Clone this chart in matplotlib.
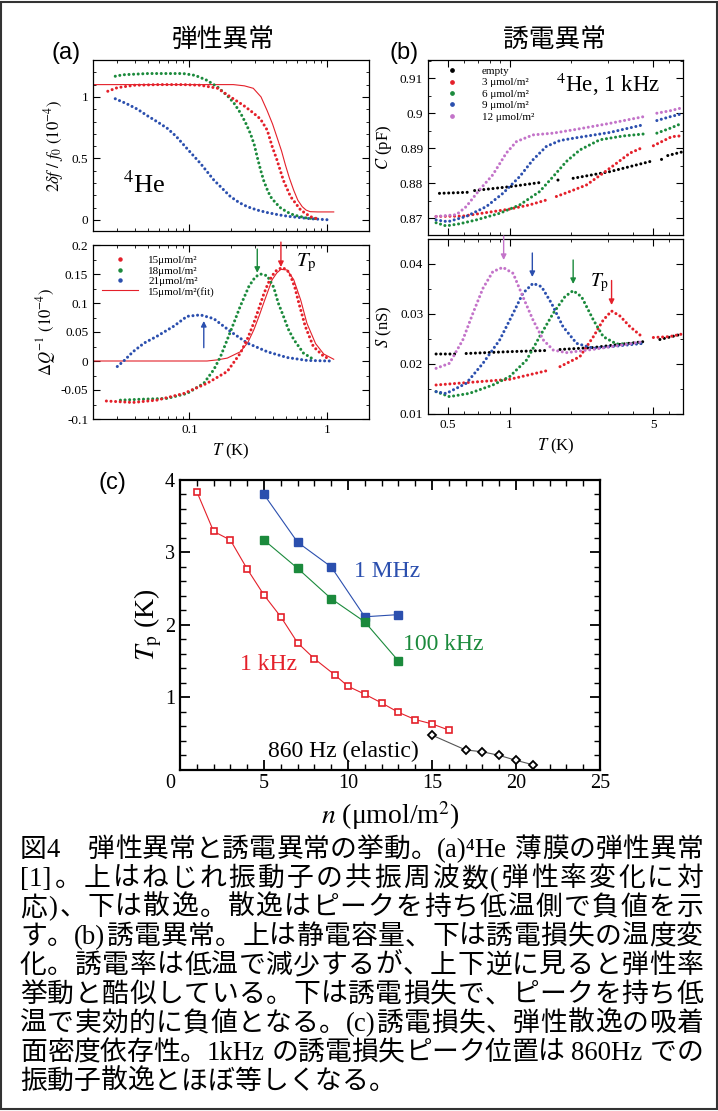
import re
import numpy as np
import matplotlib
matplotlib.use("Agg")
import matplotlib.pyplot as plt
from matplotlib.lines import Line2D
from matplotlib.patches import Rectangle
from matplotlib.ticker import AutoMinorLocator, NullFormatter, FuncFormatter

plt.rcParams['font.family'] = ['Liberation Serif', 'Noto Sans CJK JP', 'DejaVu Sans']
plt.rcParams['mathtext.fontset'] = 'stix'

nan = np.nan

# ---------------- (a) elastic anomaly, top: 2 df/f0 ----------------
a_T15 = [0.0256, 0.03, 0.04, 0.06, 0.09, 0.12, 0.16, 0.198, 0.247, 0.29, 0.327, 0.366, 0.398,
         0.43, 0.48, 0.54, 0.64, 0.75, 0.84]
a_df15 = [1.046, 1.075, 1.095, 1.10, 1.10, 1.095, 1.07, 1.0, 0.93, 0.87, 0.82, 0.73, 0.595,
          0.49, 0.32, 0.19, 0.08, 0.027, 0.01]
a_Tfit = [0.02, 0.208, 0.25, 0.29, 0.33, 0.365, 0.40, 0.43, 0.465, 0.496, 0.53, 0.57, 0.61,
          0.656, 0.70, 0.75, 0.85, 1.11]
a_dffit = [1.10, 1.10, 1.09, 1.07, 1.0, 0.89, 0.78, 0.675, 0.56, 0.446, 0.34, 0.24, 0.16,
           0.108, 0.08, 0.067, 0.065, 0.065]
a_T18 = [0.029, 0.033, 0.05, 0.07, 0.09, 0.11, 0.134, 0.16, 0.188, 0.21, 0.234, 0.255, 0.277,
         0.295, 0.31, 0.327, 0.345, 0.365, 0.386, 0.42, 0.46, 0.52, 0.57, 0.71, 0.84]
a_df18 = [1.168, 1.18, 1.19, 1.19, 1.19, 1.175, 1.135, 1.08, 1.01, 0.95, 0.87, 0.79, 0.70,
          0.61, 0.51, 0.41, 0.32, 0.25, 0.19, 0.14, 0.095, 0.06, 0.04, 0.015, 0.01]
a_T21 = [0.029, 0.035, 0.042, 0.049, 0.058, 0.069, 0.08, 0.096, 0.12, 0.15, 0.175, 0.198,
         0.23, 0.262, 0.31, 0.366, 0.45, 0.54, 0.75, 1.05]
a_df21 = [0.985, 0.945, 0.90, 0.85, 0.80, 0.745, 0.68, 0.58, 0.46, 0.325, 0.25, 0.19,
          0.14, 0.108, 0.08, 0.06, 0.04, 0.027, 0.01, 0.0]

# ---------------- (a) bottom: dissipation dQ^-1 ----------------
q_T15 = [0.025, 0.039, 0.058, 0.091, 0.134, 0.188, 0.234, 0.265, 0.293, 0.32, 0.345, 0.37,
         0.397, 0.43, 0.47, 0.51, 0.54, 0.58, 0.62, 0.69, 0.79, 0.94, 1.05]
q_15 = [-0.069, -0.0715, -0.0675, -0.056, -0.0385, -0.018, 0.0136, 0.04, 0.066, 0.092, 0.115,
        0.133, 0.147, 0.157, 0.161, 0.157, 0.147, 0.127, 0.10, 0.06, 0.025, 0.008, 0.003]
q_Tfit = [0.02, 0.134, 0.16, 0.188, 0.234, 0.265, 0.293, 0.32, 0.345, 0.37, 0.397, 0.43, 0.46,
          0.51, 0.57, 0.64, 0.71, 0.82, 0.94, 1.11]
q_fit = [0, 0, 0.002, 0.005, 0.016, 0.032, 0.054, 0.078, 0.10, 0.12, 0.14, 0.152, 0.158,
         0.157, 0.14, 0.105, 0.065, 0.03, 0.012, 0.003]
q_T18 = [0.0316, 0.044, 0.069, 0.096, 0.127, 0.15, 0.168, 0.188, 0.21, 0.234, 0.27, 0.30,
         0.327, 0.366, 0.408, 0.44, 0.48, 0.52, 0.57, 0.67, 0.79]
q_18 = [-0.0675, -0.066, -0.0645, -0.056, -0.0385, -0.015, 0.0077, 0.037, 0.066, 0.095, 0.129,
        0.145, 0.15, 0.147, 0.127, 0.10, 0.077, 0.055, 0.037, 0.0136, 0.003]
q_T21 = [0.03, 0.0335, 0.039, 0.047, 0.058, 0.077, 0.096, 0.12, 0.15, 0.198, 0.262, 0.366,
         0.51, 0.71, 1.05]
q_21 = [-0.0095, 0.0003, 0.016, 0.031, 0.0425, 0.06, 0.077, 0.0795, 0.073, 0.051, 0.031,
        0.016, 0.006, 0.001, 0.0]
q_peak_T = [0.46, 0.31, 0.127]   # arrows (15, 18, 21)

# ---------------- (b) dielectric anomaly, top: C ----------------
c_T0 = [0.455, 0.625, nan, 0.675, 1.0, 1.41, nan, 1.72, 1.80, nan, 2.04, 3.08, 4.84, nan,
        5.5, 5.6, nan, 5.9, 7.0]
c_0 = [0.8771, 0.8774, nan, 0.8779, 0.879, 0.8802, nan, 0.8809, 0.8811, nan, 0.8814, 0.8833,
       0.8862, nan, 0.8868, 0.8870, nan, 0.8879, 0.889]
c_T3 = [0.438, 0.591, 0.769, 1.0, 1.25, 1.51, nan, 1.69, 1.96, 2.37, 2.86, 3.32, 3.86, 4.49,
        nan, 5.02, 6.17, 6.78]
c_3 = [0.8705, 0.8706, 0.8716, 0.8726, 0.8738, 0.8752, nan, 0.8762, 0.8776, 0.8795, 0.8829,
       0.8857, 0.8886, 0.8903, nan, 0.8907, 0.8933, 0.8935]
c_T6 = [0.438, 0.49, 0.57, 0.687, 0.894, 1.12, 1.40, 1.63, 1.89, 2.20, 2.75, 3.58, 4.57, nan,
        5.22, 6.06, 6.78]
c_6 = [0.8687, 0.8678, 0.8684, 0.8695, 0.8714, 0.8738, 0.8776, 0.8819, 0.8862, 0.8895, 0.8924,
       0.8935, 0.8941, nan, 0.8943, 0.8957, 0.8969]
c_T9 = [0.438, 0.50, 0.614, 0.769, 0.927, 1.12, 1.30, 1.51, 1.76, 2.12, 3.08, 4.49, nan,
        5.22, 6.06, 6.78]
c_9 = [0.8695, 0.869, 0.8705, 0.8733, 0.8771, 0.8819, 0.8867, 0.8905, 0.8922, 0.893, 0.8945,
       0.8967, nan, 0.8979, 0.899, 0.8997]
c_T12 = [0.438, 0.55, 0.614, 0.713, 0.828, 0.963, 1.08, 1.30, 1.63, 2.12, 3.08, 4.49, nan,
         5.22, 6.06, 6.78]
c_12 = [0.8705, 0.871, 0.8733, 0.8781, 0.8824, 0.8886, 0.8919, 0.8938, 0.8943, 0.8954, 0.8971,
        0.899, nan, 0.900, 0.9007, 0.9014]

# ---------------- (b) bottom: dielectric loss S ----------------
s_T0 = [0.438, 0.549, nan, 0.614, 1.0, 1.51, nan, 1.76, 2.56, 4.49, nan, 5.40, 6.94]
s_0 = [0.022, 0.022, nan, 0.0221, 0.02247, 0.0227, nan, 0.0229, 0.0233, 0.02447, nan, 0.0249, 0.026]
s_T3 = [0.438, 0.614, 1.0, 1.57, nan, 1.76, 2.20, 2.56, 2.86, 3.14, 3.45, 3.86, 4.32, 4.49, nan,
        5.02, 6.0, 6.94]
s_3 = [0.0158, 0.01627, 0.01693, 0.0188, nan, 0.01947, 0.02147, 0.02547, 0.0288, 0.0306, 0.0296,
       0.02747, 0.0258, 0.0256, nan, 0.0253, 0.02547, 0.026]
s_T6 = [0.438, 0.509, 0.637, 0.828, 1.0, 1.21, 1.40, 1.63, 1.86, 2.04, 2.24, 2.56, 2.86, 3.32, 4.49]
s_6 = [0.01447, 0.01347, 0.01413, 0.0158, 0.01747, 0.0208, 0.02547, 0.03013, 0.03347, 0.03467,
       0.03347, 0.0288, 0.02547, 0.024, 0.02413]
s_T9 = [0.438, 0.49, 0.614, 0.741, 0.894, 1.04, 1.16, 1.30, 1.43, 1.60, 1.82, 2.12, 2.56, 4.49]
s_9 = [0.01447, 0.0141, 0.01613, 0.02013, 0.0248, 0.03013, 0.03413, 0.03613, 0.03547, 0.03213,
       0.02747, 0.02413, 0.02313, 0.02413]
s_T12 = [0.438, 0.509, 0.591, 0.662, 0.741, 0.828, 0.927, 1.04, 1.16, 1.30, 1.46, 1.63, 1.89,
         2.56, 4.49]
s_12 = [0.01913, 0.02013, 0.0248, 0.03013, 0.03513, 0.03847, 0.03933, 0.03813, 0.03347, 0.0288,
        0.0248, 0.0228, 0.02227, 0.02293, 0.02447]
s_peak_T = [0.935, 1.29, 2.04, 3.14]   # arrows (12, 9, 6, 3)

# ---------------- (c) peak temperature vs coverage ----------------
n_1k = [1, 2, 3, 4, 5, 6, 7, 8, 9.2, 10, 11, 12, 13, 14, 15, 16]
tp_1k = [3.84, 3.29, 3.17, 2.77, 2.41, 2.11, 1.75, 1.53, 1.31, 1.15, 1.04, 0.92, 0.79, 0.69,
         0.63, 0.545]
n_1M = [5, 7, 9, 11, 13]
tp_1M = [3.80, 3.14, 2.80, 2.11, 2.14]
n_100k = [5, 7, 9, 11, 13]
tp_100k = [3.17, 2.78, 2.36, 2.04, 1.50]
n_860 = [15, 17, 18, 19, 20, 21]
tp_860 = [0.475, 0.27, 0.245, 0.195, 0.127, 0.066]

caption = [
    "図4　弾性異常と誘電異常の挙動。(a)⁴He 薄膜の弾性異常",
    "[1]。上はねじれ振動子の共振周波数(弾性率変化に対",
    "応)、下は散逸。散逸はピークを持ち低温側で負値を示",
    "す。(b)誘電異常。上は静電容量、下は誘電損失の温度変",
    "化。誘電率は低温で減少するが、上下逆に見ると弾性率",
    "挙動と酷似している。下は誘電損失で、ピークを持ち低",
    "温で実効的に負値となる。(c)誘電損失、弾性散逸の吸着",
    "面密度依存性。1kHz の誘電損失ピーク位置は 860Hz での",
    "振動子散逸とほぼ等しくなる。",
]

RED = '#e4202a'
GREEN = '#1b8a3c'
BLUE = '#2b4fae'
MAG = '#c373c9'
W, H = 718, 1111

fig = plt.figure(figsize=(W / 100, H / 100), dpi=100)


def box(x0, y0, x1, y1):
    return [x0 / W, 1 - y1 / H, (x1 - x0) / W, (y1 - y0) / H]


def ftext(x, y, s, **kw):
    return fig.text(x / W, 1 - y / H, s, **kw)


def style(ax, fs=9.5):
    ax.tick_params(which='both', direction='in', top=True, right=True, labelsize=fs)
    ax.tick_params(which='major', length=5, width=0.8)
    ax.tick_params(which='minor', length=2.5, width=0.6)
    for s in ax.spines.values():
        s.set_linewidth(0.9)


dots = dict(ls=(0, (0.01, 1.5)), lw=2.2, dash_capstyle='round')

ax_a1 = fig.add_axes(box(93, 60, 369, 231))
ax_a2 = fig.add_axes(box(93, 245, 369, 419))
ax_b1 = fig.add_axes(box(428, 60, 683, 235))
ax_b2 = fig.add_axes(box(428, 239, 683, 414))
ax_c = fig.add_axes(box(180, 480, 600, 769.5))

# (a) top
ax_a1.plot(a_Tfit, a_dffit, color=RED, lw=0.8)
ax_a1.plot(a_T21, a_df21, color=BLUE, **dots)
ax_a1.plot(a_T18, a_df18, color=GREEN, **dots)
ax_a1.plot(a_T15, a_df15, color=RED, **dots)
ax_a1.set_ylim(-0.09, 1.3)
ax_a1.set_yticks([0, 0.5, 1])
ax_a1.yaxis.set_minor_locator(AutoMinorLocator(5))
ax_a1.set_ylabel(r"$2\delta f\ /\ f_0\ \mathrm{(10^{-4})}$", fontsize=12, labelpad=4)
ax_a1.text(0.108, 0.225, r"$^{4}$He", transform=ax_a1.transAxes, fontsize=19)

# (a) bottom
ax_a2.plot(q_Tfit, q_fit, color=RED, lw=0.8)
ax_a2.plot(q_T21, q_21, color=BLUE, **dots)
ax_a2.plot(q_T18, q_18, color=GREEN, **dots)
ax_a2.plot(q_T15, q_15, color=RED, **dots)
ax_a2.set_ylim(-0.1, 0.2)
ax_a2.set_yticks([-0.1, -0.05, 0, 0.05, 0.1, 0.15, 0.2])
ax_a2.yaxis.set_minor_locator(AutoMinorLocator(2))
ax_a2.set_ylabel(r"$\mathit{\Delta Q}^{\mathrm{-1}}\ \mathrm{(10^{-4})}$", fontsize=12, labelpad=2)
ax_a2.set_xlabel(r"$T$ (K)", fontsize=12, labelpad=4)
for T, c, y0, y1 in zip(q_peak_T, [RED, GREEN, BLUE], [0.205, 0.193, 0.023], [0.162, 0.152, 0.069]):
    ax_a2.annotate('', xy=(T, y1), xytext=(T, y0), annotation_clip=False,
                   arrowprops=dict(arrowstyle='-|>', color=c, lw=1.0, mutation_scale=8,
                                   shrinkA=0, shrinkB=0))
ax_a2.text(0.735, 0.88, r"$T_{\mathrm{p}}$", transform=ax_a2.transAxes, fontsize=15)
hs = [Line2D([], [], ls='none', marker='o', ms=2.2, color=RED),
      Line2D([], [], ls='none', marker='o', ms=2.2, color=GREEN),
      Line2D([], [], ls='none', marker='o', ms=2.2, color=BLUE),
      Line2D([], [], color=RED, lw=0.8)]
ax_a2.legend(hs, ['15μmol/m²', '18μmol/m²', '21μmol/m²', '15μmol/m²(fit)'],
             loc='upper left', bbox_to_anchor=(0.015, 0.965), frameon=False, fontsize=8,
             handlelength=3.3, handletextpad=0.9, labelspacing=0.05, borderpad=0.4,
             borderaxespad=0)

for ax in (ax_a1, ax_a2):
    ax.set_xscale('log')
    ax.set_xlim(0.02, 2.0)
    ax.set_xticks([0.1, 1], ['0.1', '1'])
    ax.xaxis.set_minor_formatter(NullFormatter())
    ax.yaxis.set_major_formatter(FuncFormatter(lambda v, p: '%g' % round(v, 3)))
    style(ax)
ax_a1.tick_params(labelbottom=False)

# (b) top
ax_b1.plot(c_T0, c_0, color='black', **dots)
ax_b1.plot(c_T3, c_3, color=RED, **dots)
ax_b1.plot(c_T6, c_6, color=GREEN, **dots)
ax_b1.plot(c_T9, c_9, color=BLUE, **dots)
ax_b1.plot(c_T12, c_12, color=MAG, **dots)
ax_b1.set_ylim(0.8652, 0.9152)
ax_b1.set_yticks([0.87, 0.88, 0.89, 0.9, 0.91])
ax_b1.yaxis.set_minor_locator(AutoMinorLocator(2))
ax_b1.set_ylabel(r"$C$ (pF)", fontsize=12, labelpad=4)
ax_b1.text(0.50, 0.82, r"$^{4}$He, 1 kHz", transform=ax_b1.transAxes, fontsize=16.5)
hb = [Line2D([], [], ls='none', marker='o', ms=2.4, color=c)
      for c in ['black', RED, GREEN, BLUE, MAG]]
ax_b1.legend(hb, ['empty', '3 μmol/m²', '6 μmol/m²', '9 μmol/m²', '12 μmol/m²'],
             loc='upper left', bbox_to_anchor=(0.032, 0.99), frameon=False, fontsize=8,
             handlelength=2.0, handletextpad=1.7, labelspacing=0.15, borderpad=0.4,
             borderaxespad=0)

# (b) bottom
ax_b2.plot(s_T0, s_0, color='black', **dots)
ax_b2.plot(s_T3, s_3, color=RED, **dots)
ax_b2.plot(s_T6, s_6, color=GREEN, **dots)
ax_b2.plot(s_T9, s_9, color=BLUE, **dots)
ax_b2.plot(s_T12, s_12, color=MAG, **dots)
ax_b2.set_ylim(0.01, 0.045)
ax_b2.set_yticks([0.01, 0.02, 0.03, 0.04])
ax_b2.yaxis.set_minor_locator(AutoMinorLocator(2))
ax_b2.set_ylabel(r"$S$ (nS)", fontsize=12, labelpad=4)
ax_b2.set_xlabel(r"$T$ (K)", fontsize=12, labelpad=4)
for T, c, y0, y1 in zip(s_peak_T, [MAG, BLUE, GREEN, RED],
                        [0.0456, 0.0422, 0.0408, 0.0367], [0.0408, 0.0374, 0.0360, 0.0318]):
    ax_b2.annotate('', xy=(T, y1), xytext=(T, y0), annotation_clip=False,
                   arrowprops=dict(arrowstyle='-|>', color=c, lw=1.0, mutation_scale=8,
                                   shrinkA=0, shrinkB=0))
ax_b2.text(0.635, 0.73, r"$T_{\mathrm{p}}$", transform=ax_b2.transAxes, fontsize=14)

for ax in (ax_b1, ax_b2):
    ax.set_xscale('log')
    ax.set_xlim(0.4, 7.0)
    ax.set_xticks([0.5, 1, 5], ['0.5', '1', '5'])
    ax.xaxis.set_minor_formatter(NullFormatter())
    ax.yaxis.set_major_formatter(FuncFormatter(lambda v, p: '%g' % round(v, 4)))
    style(ax)
ax_b1.tick_params(labelbottom=False)

# (c)
ax_c.plot(n_1k, tp_1k, color=RED, lw=0.8, marker='s', ms=5, mfc='white', mec=RED, mew=1.2)
ax_c.plot(n_1M, tp_1M, color=BLUE, lw=0.8, marker='s', ms=5.5, mfc=BLUE, mec=BLUE)
ax_c.plot(n_100k, tp_100k, color=GREEN, lw=0.8, marker='s', ms=5.5, mfc=GREEN, mec=GREEN)
ax_c.plot(n_860, tp_860, color='#555555', lw=0.8, marker='D', ms=4.5, mfc='white',
          mec='black', mew=1.3)
ax_c.set_xlim(0, 25)
ax_c.set_ylim(0, 4)
ax_c.set_xticks([0, 5, 10, 15, 20, 25], ['', '5', '10', '15', '20', '25'])
ax_c.set_yticks([0, 1, 2, 3, 4], ['', '1', '2', '3', '4'])
ax_c.xaxis.set_minor_locator(AutoMinorLocator(5))
ax_c.yaxis.set_minor_locator(AutoMinorLocator(5))
ax_c.tick_params(which='both', direction='in', top=True, right=True, labelsize=14.5)
ax_c.tick_params(which='major', length=7, width=1.3)
ax_c.tick_params(which='minor', length=4, width=1.0)
for s in ax_c.spines.values():
    s.set_linewidth(1.6)
ax_c.set_xlabel(r"$n$ (μmol/m$^2$)", fontsize=20, labelpad=4)
ax_c.set_ylabel(r"$T_{\mathrm{p}}$ (K)", fontsize=20, labelpad=1)
ax_c.text(0.415, 0.665, "1 MHz", transform=ax_c.transAxes, color=BLUE, fontsize=17)
ax_c.text(0.531, 0.413, "100 kHz", transform=ax_c.transAxes, color=GREEN, fontsize=17)
ax_c.text(0.143, 0.344, "1 kHz", transform=ax_c.transAxes, color=RED, fontsize=17)
ax_c.text(0.21, 0.042, "860 Hz (elastic)", transform=ax_c.transAxes, color='black', fontsize=17)
ax_c.text(-0.024, -0.017, "0", transform=ax_c.transAxes, fontsize=14.5, ha='center', va='top')

# titles and panel letters
ftext(223, 40, "弾性異常", family='Noto Sans CJK JP', fontsize=18.5, ha='center', va='center')
ftext(554, 40, "誘電異常", family='Noto Sans CJK JP', fontsize=18.5, ha='center', va='center')
ftext(66, 53, "(a)", family='Liberation Sans', fontsize=17, ha='center', va='center')
ftext(404, 53, "(b)", family='Liberation Sans', fontsize=17, ha='center', va='center')
ftext(112, 483, "(c)", family='Liberation Sans', fontsize=17, ha='center', va='center')

# caption, justified between x=20 and x=703
cap_fs = 19.3
em = cap_fs * 100 / 72
fig.canvas.draw()
rend = fig.canvas.get_renderer()
for i, line in enumerate(caption):
    toks = re.findall(r"[!-~⁴]+| |.", line)
    widths = []
    for t in toks:
        if t == ' ':
            widths.append(0.25 * em)
        elif re.match(r"[!-~⁴]", t):
            tmp = ftext(0, 0, t, fontsize=cap_fs)
            widths.append(tmp.get_window_extent(rend).width + 1)
            tmp.remove()
        else:
            widths.append(em)
    gap = 0
    if i < len(caption) - 1:
        gap = (683 - sum(widths)) / (len(toks) - 1)
    x = 20
    for t, w in zip(toks, widths):
        if t != ' ':
            ftext(x, 857 + 29 * i, t, fontsize=cap_fs, ha='left', va='baseline')
        x += w + gap

fig.add_artist(Rectangle((0.002, 0.002), 0.996, 0.996, transform=fig.transFigure,
                         fill=False, lw=1.5, ec='#333333'))

fig.savefig("out.png", dpi=100)
